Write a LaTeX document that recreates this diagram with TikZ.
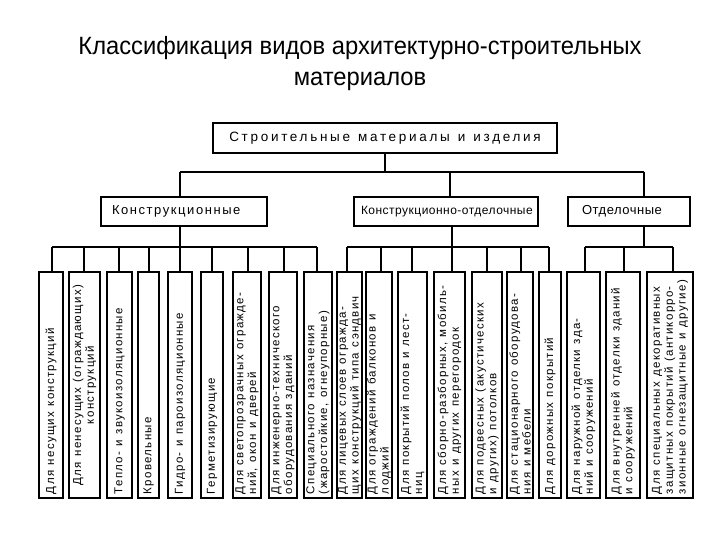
\documentclass[tikz,border=0pt]{standalone}
\usepackage{fontspec}
\setmainfont{Liberation Sans}
\newfontfamily\titlefont[FakeStretch=0.95]{Liberation Sans}
\newfontfamily\leaffont[LetterSpace=11]{Liberation Sans}
\newfontfamily\headfont[LetterSpace=20]{Liberation Sans}
\newfontfamily\catfont[LetterSpace=12]{Liberation Sans}
\newfontfamily\catfontb[LetterSpace=4]{Liberation Sans}
\newcommand\leafsp{\spaceskip=5.5pt plus 1pt\relax}
\newcommand\headsp{\spaceskip=8pt plus 1pt\relax}
\newcommand\lline[1]{\mbox{\leafsp #1}}
\begin{document}
\begin{tikzpicture}[x=1pt,y=-1pt,
  conn/.style={line width=1.3pt},
  boxst/.style={draw, line width=2pt, inner sep=0pt},
  topbox/.style={boxst, minimum width=344pt, minimum height=30pt, font=\headfont\fontsize{13.5}{15}\selectfont},
  catbox/.style={boxst, minimum height=29pt, align=left, font=\catfont\fontsize{13}{14}\selectfont},
  leaf/.style={boxst, rotate=90, minimum width=226pt, text width=218pt, inner xsep=4pt, align=left, font=\leaffont\fontsize{11.5}{12.8}\selectfont}
]
\useasboundingbox (0,0) rectangle (720,540);
\node[font=\titlefont\fontsize{25}{31}\selectfont, align=center] (title) at (360,64)
  {Классификация видов архитектурно-строительных\\материалов};

\node[topbox] (top) at (385,138) {\headsp Строительные материалы и изделия};

\node[catbox, text width=144pt, inner xsep=11pt] (k) at (184,211.5) {\mbox{Конструкционные}};
\node[catbox, text width=170pt, inner xsep=7pt, font=\catfontb\fontsize{12}{14}\selectfont] (ko) at (446,211.5) {\mbox{Конструкционно-отделочные}};
\node[catbox, text width=94pt, inner xsep=14pt, font=\catfontb\fontsize{13}{14}\selectfont] (otd) at (629,211.5) {\mbox{Отделочные}};

\coordinate (h1) at (180,172);
\coordinate (h2) at (450,172);
\coordinate (h3) at (644,172);
\draw[conn] (top.south) -- (top.south |- h1);
\draw[conn] (h1) -- (h3);
\draw[conn] (h1) -- (h1 |- k.north);
\draw[conn] (h2) -- (h2 |- ko.north);
\draw[conn] (h3) -- (h3 |- otd.north);

% leaves
\node[leaf, minimum height=24pt] (b1) at (51,385) {\lline{Для несущих конструкций}};
\node[leaf, minimum height=31pt, align=center] (b2) at (84.5,385) {\lline{Для ненесущих (ограждающих)}\\\lline{конструкций}};
\node[leaf, minimum height=25pt] (b3) at (119.5,385) {\lline{Тепло- и звукоизоляционные}};
\node[leaf, minimum height=21pt] (b4) at (148.5,385) {\lline{Кровельные}};
\node[leaf, minimum height=24pt] (b5) at (180,385) {\lline{Гидро- и пароизоляционные}};
\node[leaf, minimum height=22pt] (b6) at (212,385) {\lline{Герметизирующие}};
\node[leaf, minimum height=28pt] (b7) at (247,385) {\lline{Для светопрозрачных огражде-}\\\lline{ний, окон и дверей}};
\node[leaf, minimum height=28pt] (b8) at (283,385) {\lline{Для инженерно-технического}\\\lline{оборудования зданий}};
\node[leaf, minimum height=28pt] (b9) at (318,385) {\lline{Специального назначения}\\\lline{(жаростойкие, огнеупорные)}};
\node[leaf, minimum height=25pt] (b10) at (349.5,385) {\lline{Для лицевых слоев огражда-}\\\lline{щих конструкций типа сэндвич}};
\node[leaf, minimum height=26pt] (b11) at (379,385) {\lline{Для ограждений балконов и}\\\lline{лоджий}};
\node[leaf, minimum height=29pt] (b12) at (412.5,385) {\lline{Для покрытий полов и лест-}\\\lline{ниц}};
\node[leaf, minimum height=31pt] (b13) at (449.5,385) {\lline{Для сборно-разборных, мобиль-}\\\lline{ных и других перегородок}};
\node[leaf, minimum height=30pt] (b14) at (487,385) {\lline{Для подвесных (акустических}\\\lline{и других) потолков}};
\node[leaf, minimum height=26pt] (b15) at (520,385) {\lline{Для стационарного оборудова-}\\\lline{ния и мебели}};
\node[leaf, minimum height=22pt] (b16) at (550,385) {\lline{Для дорожных покрытий}};
\node[leaf, minimum height=33pt] (b17) at (583.5,385) {\lline{Для наружной отделки зда-}\\\lline{ний и сооружений}};
\node[leaf, minimum height=34pt] (b18) at (623,385) {\lline{Для внутренней отделки зданий}\\\lline{и сооружений}};
\node[leaf, minimum height=46pt] (b19) at (670,385) {\lline{Для специальных декоративных}\\\lline{защитных покрытий (антикорро-}\\\lline{зионные огнезащитные и другие)}};

\foreach \i/\x in {1/52,2/84,3/119,4/149,5/180,6/212,7/248,8/284,9/317,10/347,11/381,12/412,13/452,14/487,15/521,16/549,17/585,18/624,19/673}
  \coordinate (d\i) at (\x,247);
\coordinate (r) at (644,247);

\draw[conn] (k.south -| d5) -- (d5);
\draw[conn] (d1) -- (d9);
\draw[conn] (ko.south -| d13) -- (d13);
\draw[conn] (d10) -- (d16);
\draw[conn] (otd.south -| r) -- (r);
\draw[conn] (d17) -- (d19);
\foreach \i in {1,...,19}
  \draw[conn] (d\i) -- (d\i |- b\i.east);
\end{tikzpicture}
\end{document}
